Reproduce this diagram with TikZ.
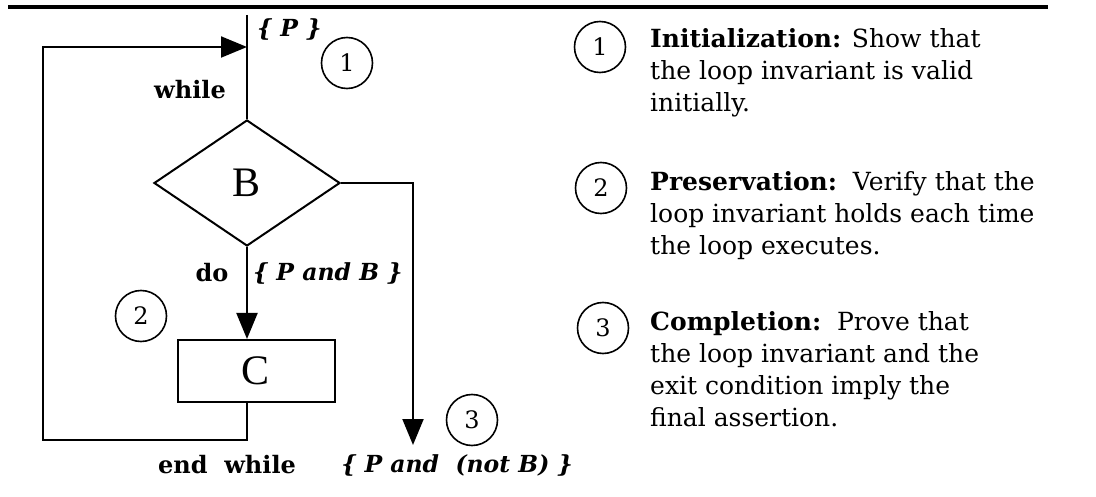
\documentclass[tikz,border=0pt]{standalone}
\usepackage{fontspec}
\setmainfont{DejaVu Serif}
\newfontfamily\timesfont{Liberation Serif}
\usetikzlibrary{shapes.geometric, arrows.meta, positioning}
\tikzset{
    decision/.style={diamond, draw=black, line width=2pt, minimum width=186pt, minimum height=126pt, inner sep=0pt, font=\timesfont\fontsize{42}{42}\selectfont},
    process/.style={rectangle, draw=black, line width=2pt, minimum width=157pt, minimum height=62pt, inner sep=0pt, font=\timesfont\fontsize{42}{42}\selectfont},
    numcirc/.style={circle, draw=black, line width=1.6pt, minimum size=51pt, inner sep=0pt, font=\fontsize{24}{24}\selectfont},
    kwlabel/.style={font=\bfseries\fontsize{24}{24}\selectfont, inner sep=0pt},
    assertion/.style={font=\bfseries\itshape\fontsize{23.5}{24}\selectfont, inner sep=0pt},
    note/.style={align=left, anchor=north west, inner sep=0pt, font=\fontsize{25}{32}\selectfont},
    arrow/.style={line width=2pt, -{Triangle[length=26pt, width=21pt]}},
    line/.style={line width=2pt}
}

\begin{document}
\begin{tikzpicture}[x=1pt, y=-1pt]
    \useasboundingbox (0,0) rectangle (1096,497);
    \draw [line width=3.5pt] (8,7) -- (1048,7);

    % flow chart
    \node (B) [decision] at (247,183) {B};
    \node (C) [process] at (256,371) {C};
    \coordinate (start) at (247,15);
    \coordinate (join) at (247,47);
    \coordinate (loopbl) at (43,440);
    \coordinate (looptl) at (43,47);
    \coordinate (exit) at (413,445);

    \draw [line] (start) -- (B.north);
    \draw [arrow] (B.south) -- (B.south |- C.north);
    \draw [arrow] (C.south -| B.south) |- (loopbl) -- (looptl) -- (join);
    \draw [arrow] (B.east) -| (exit);

    \node (pre) [assertion, anchor=west] at (257,29) {\{ P \}};
    \node (while) [kwlabel] at (190,90) {while};
    \node (do) [kwlabel] at (212,273) {do};
    \node (inv) [assertion, anchor=west] at (253,273) {\{ P and B \}};
    \node (endw) [kwlabel] at (227,465) {end\ \ while};
    \node (post) [assertion] at (457,465) {\{ P and\ \ (not B) \}};

    \node (c1) [numcirc] at (347,63) {1};
    \node (c2) [numcirc] at (141,316) {2};
    \node (c3) [numcirc] at (472,420) {3};

    % explanations
    \node (n1) [numcirc] at (600,47) {1};
    \node (t1) [note] at (650,28) {\textbf{Initialization:} Show that\\the loop invariant is valid\\initially.};
    \node (n2) [numcirc] at (601,188) {2};
    \node (t2) [note] at (650,171) {\textbf{Preservation:}\ \ Verify that the\\loop invariant holds each time\\the loop executes.};
    \node (n3) [numcirc] at (603,328) {3};
    \node (t3) [note] at (650,311) {\textbf{Completion:}\ \ Prove that\\the loop invariant and the\\exit condition imply the\\final assertion.};
\end{tikzpicture}
\end{document}
